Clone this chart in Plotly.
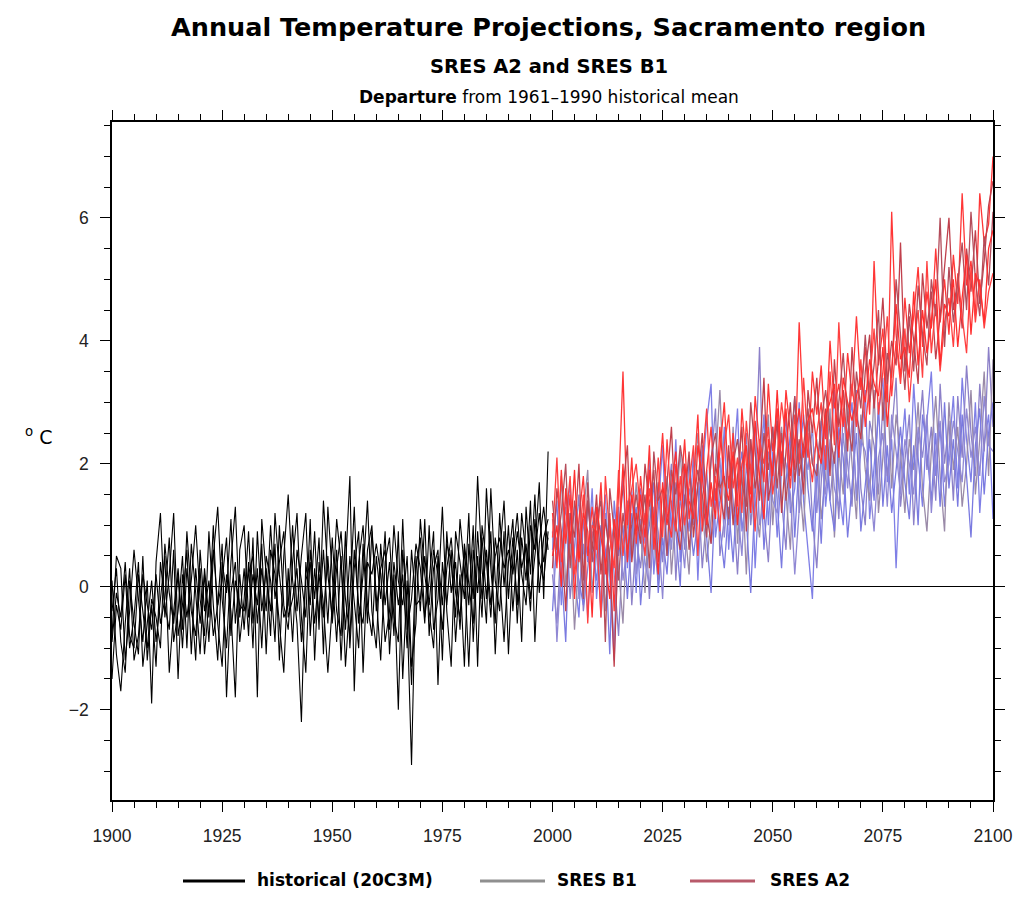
import plotly.graph_objects as go

# ---------------- data (degrees C departure) ----------------
hist_start = 1900
proj_start = 2000

hist_1 = [-0.8, 0.5, 0.3, -1.2, -0.4, 0.6, -0.2, -0.9, 0.1, -1.9,
          0.4, 1.2, -0.5, 0.2, 1.2, -0.8, -0.3, 0.6, -1.1, 0.3,
          -0.6, 0.2, -0.9, 0.5, 1.3, -0.2, -1.0, 0.4, 1.3, -0.5,
          0.3, -0.8, 0.8, -1.8, 1.1, 0.2, -0.4, 0.7, -1.2, 0.5,
          1.5, 0.1, -0.6, -2.2, 0.4, -0.3, 0.9, -0.7, 1.4, 0.2,
          -0.5, 0.6, -1.2, 0.3, 1.8, -1.7, 0.4, 1.0, -0.3, -0.8,
          0.5, -0.2, 0.9, -1.1, 0.2, -2.0, 0.6, -0.4, -2.9, 0.3,
          0.8, -0.5, 0.1, 0.9, -1.6, 0.4, -0.3, 0.6, -0.9, 0.2,
          -1.3, 0.7, -0.2, 1.8, 0.3, -0.6, 1.6, 0.1, -0.4, 0.9,
          -1.1, 0.5, 1.2, 0.2, -0.3, 1.0, 0.6, 1.7, -0.2, 2.2]
hist_2 = [-1.5, -0.3, -0.7, 0.2, -1.0, -0.5, 0.4, -1.3, -0.6, 0.1,
          -0.9, -0.2, 0.5, -1.4, -0.4, 0.3, -0.7, 0.9, -0.2, -1.2,
          0.6, -0.4, 0.1, -0.8, -0.3, 0.7, -1.8, -0.1, 0.4, -0.9,
          -0.2, 0.9, -0.6, 0.3, -1.0, 0.5, 0.1, -0.9, 1.0, -0.3,
          -0.7, 0.4, 1.2, -0.5, -1.4, 0.6, -0.2, 0.8, -1.1, 1.3,
          0.2, -0.9, 0.5, -1.3, -0.2, 1.3, -0.6, 0.2, 1.4, -0.4,
          -1.0, 0.7, -0.3, 0.4, -0.8, 0.9, -1.5, 0.1, -1.6, 0.5,
          -0.4, 1.1, -0.8, 0.3, 0.6, -1.2, 0.9, -0.1, 0.4, -0.7,
          0.6, -0.3, 1.0, -1.3, 1.0, 0.4, -0.5, 0.8, 0.2, -0.9,
          0.4, 1.1, -0.6, 0.8, 0.1, 1.4, -0.9, 0.7, 1.3, 0.6]
hist_3 = [0.1, -1.1, -1.7, -0.6, 0.3, -1.2, -0.8, 0.2, -0.3, -0.7,
          0.2, -0.6, -0.2, 0.8, -0.9, -0.4, 0.5, -1.0, 0.7, -0.1,
          -1.1, 0.3, -0.5, 1.0, -0.6, -1.3, 0.2, -0.4, -1.8, 0.6,
          1.0, -0.5, 0.2, -0.3, 0.7, -1.1, 0.6, 0.2, -0.6, -1.4,
          0.3, -0.9, 0.6, 0.1, -0.5, 1.1, -1.2, 0.4, -0.3, -1.4,
          -0.3, 1.1, 0.4, -0.7, 0.5, -0.2, -1.0, 0.7, -0.6, 0.9,
          -0.2, -1.2, 0.4, 0.8, -0.5, -0.9, 1.1, -0.7, -0.2, 0.7,
          0.3, -0.6, 1.0, -0.7, -0.2, 1.3, -0.4, -1.3, 0.9, 0.4,
          -0.2, 1.2, -0.9, 0.5, -0.5, 1.6, 0.3, -0.6, 1.2, 0.0,
          1.0, -0.4, 0.6, -0.9, 1.3, 0.2, 1.5, -0.1, 0.8, 1.1]
hist_4 = [-0.4, 0.3, -0.9, -1.4, 0.1, -0.6, -1.1, 0.5, -1.2, -0.3,
          -1.3, 0.4, -0.3, -0.7, 0.6, -1.5, 0.2, -0.5, 0.1, 1.0,
          -0.2, -0.8, 0.9, -0.3, -1.2, 0.4, -0.1, 1.1, -0.6, 0.2,
          -0.7, 0.4, -1.0, 0.9, -0.4, 0.3, -0.8, 1.2, 0.2, -0.5,
          -0.3, 1.0, -0.4, 0.5, 1.2, -0.8, 0.3, -0.5, 0.6, -0.6,
          0.8, -0.4, -0.8, 0.9, -1.0, 0.3, 0.9, -1.4, 0.4, 0.2,
          0.7, 0.2, -0.9, -0.4, 1.0, 0.1, -0.3, 0.5, -1.3, -0.6,
          1.1, 0.2, -0.4, -1.0, 0.5, -0.3, 0.7, 0.4, -0.5, 1.1,
          0.3, -1.3, 0.6, -0.1, 0.8, -0.2, 0.9, -1.1, 0.5, 1.4,
          -0.2, 0.8, -0.3, 1.2, 0.5, -0.4, 1.1, 0.4, 0.1, 0.9]
hist_5 = [-0.9, -0.1, -0.5, 0.4, -0.8, -1.0, 0.2, -0.4, -1.0, -0.2,
          -0.5, -1.0, 0.7, -0.1, -0.6, 0.2, -1.0, 0.3, -0.4, -0.8,
          0.3, -1.1, -0.2, 0.6, -0.3, 0.1, 0.8, -0.8, 0.1, -0.3,
          -0.4, 0.2, 0.5, -0.6, 0.3, -0.4, 1.0, -0.2, 0.4, 0.9,
          -0.5, -0.2, 0.3, -0.9, 0.1, 0.4, -0.6, 0.2, -0.5, 0.5,
          -0.6, 0.3, 0.9, -0.2, -0.8, 0.6, -0.3, -0.6, 0.6, 1.0,
          -0.4, 0.3, 0.6, -0.7, 0.4, -0.3, 0.2, -1.0, 0.6, -0.3,
          -0.2, 0.5, -0.3, 0.6, 0.2, -0.7, 0.3, 0.8, -0.1, -0.5,
          0.7, 0.1, -0.6, 0.9, -0.2, 0.6, -0.3, 0.5, 0.8, 0.3,
          0.6, 0.2, 0.9, 0.3, 0.7, -0.2, 0.5, 1.2, 0.4, 0.8]

b1_1 = [0.6, 1.4, -0.3, 0.9, 1.7, 0.2, -0.5, 1.1, 0.4, 1.6,
        -0.2, 0.8, 1.5, 0.1, -1.2, 0.9, 1.8, 0.3, 1.2, -0.1,
        1.6, 0.7, 2.1, 0.2, 1.3, 2.3, 0.5, 1.0, 2.4, 0.4,
        1.5, 0.9, 2.2, 0.1, 1.8, 2.7, 3.3, 0.8, 1.4, 2.6,
        0.6, 1.9, 2.9, 0.9, 1.5, 2.4, 0.3, 1.7, 2.8, 1.0,
        2.2, 0.8, 1.9, 2.8, 1.2, 1.6, 3.0, 1.4, 0.6, -0.2,
        1.8, 2.7, 1.3, 2.1, 3.2, 1.6, 1.0, 2.5, 3.0, 1.4,
        2.2, 3.2, 1.1, 1.9, 2.8, 3.4, 1.7, 2.4, 0.3, 2.0,
        2.9, 1.5, 3.3, 2.1, 1.3, 2.7, 3.5, 1.8, 2.6, 1.3,
        2.2, 3.1, 1.6, 3.4, 2.4, 1.7, 3.0, 1.2, 2.3, 2.8,
        1.1]
b1_2 = [0.2, -0.6, 0.8, 1.3, -0.2, 0.6, 1.5, -0.4, 0.3, 1.0,
        1.3, -0.5, 0.4, 1.1, 0.2, -0.8, 0.7, 1.4, -0.3, 0.8,
        0.3, 1.2, -0.2, 1.0, 1.7, 0.4, 1.3, 2.0, 0.1, 1.5,
        0.6, 2.1, 1.0, 1.7, 0.3, 1.2, 2.0, 2.9, 0.5, 1.1,
        2.2, 1.4, 0.2, 1.6, 2.5, 1.0, 1.8, 3.9, 1.2, 0.4,
        1.8, 2.9, 1.4, 0.6, 2.2, 3.1, 1.2, 1.9, 2.5, 1.1,
        0.3, 1.7, 2.8, 1.4, 2.2, 1.1, 2.9, 2.0, 1.3, 3.2,
        1.6, 1.0, 2.7, 2.3, 1.5, 3.0, 1.8, 2.5, 3.4, 1.3,
        2.1, 2.8, 1.0, 2.3, 3.2, 1.9, 2.6, 1.4, 3.3, 2.0,
        2.7, 1.4, 3.1, 2.1, 3.6, 2.5, 1.8, 3.3, 2.2, 3.9,
        2.6]
b1_3 = [1.1, 0.4, 1.8, 0.0, 0.9, -0.7, 0.5, 1.2, 1.9, -0.1,
        0.7, 1.6, -0.4, 0.6, 1.0, 0.3, -0.6, 1.1, 0.5, 1.7,
        0.9, -0.1, 1.4, 0.8, 0.1, 1.1, 1.8, 0.2, 1.2, 2.2,
        1.0, 0.2, 1.6, 2.5, 1.3, 0.4, 1.1, 2.0, 3.2, 1.5,
        1.0, 2.6, 0.7, 1.9, 0.2, 2.0, 1.4, 0.8, 1.9, 2.8,
        1.0, 2.1, 2.6, 1.5, 0.6, 2.4, 1.8, 0.9, 2.7, 2.0,
        2.4, 1.1, 1.8, 2.9, 0.8, 2.2, 1.5, 3.0, 2.0, 1.1,
        2.8, 1.9, 1.4, 3.2, 1.2, 2.1, 3.3, 1.6, 2.8, 2.2,
        1.2, 2.4, 1.9, 3.0, 1.6, 0.9, 2.2, 3.1, 1.8, 0.9,
        3.0, 1.9, 2.6, 1.3, 2.0, 3.2, 1.5, 2.4, 3.5, 1.8,
        3.7]
b1_4 = [-0.4, 0.8, 0.3, -0.9, 1.2, 0.5, 0.1, -0.3, 1.4, 0.6,
        0.1, 1.0, 0.6, -1.1, 1.4, 0.5, 1.0, -0.2, 0.9, 1.3,
        -0.3, 0.6, 1.0, 1.7, -0.1, 0.8, 0.2, 1.4, 0.9, 0.0,
        2.0, 1.3, 0.5, 1.1, 2.3, 0.8, -0.1, 1.6, 1.0, 0.3,
        1.3, 0.4, 1.7, 2.2, 1.1, -0.1, 1.5, 2.3, 0.6, 1.6,
        2.6, 1.4, 0.3, 1.7, 2.5, 0.8, 2.1, 2.8, 1.6, 0.9,
        2.0, 0.7, 2.3, 1.4, 0.9, 2.6, 2.1, 0.8, 1.7, 2.5,
        0.9, 1.6, 2.4, 1.4, 3.0, 1.3, 2.3, 1.2, 1.9, 2.6,
        1.7, 1.1, 2.3, 1.0, 2.8, 2.2, 1.4, 2.5, 1.3, 3.0,
        1.6, 2.4, 1.3, 2.8, 1.8, 0.8, 2.3, 2.9, 1.5, 2.5,
        3.0]
b1_5 = [0.9, -0.9, 0.4, 1.5, 0.7, 1.3, -0.2, 0.7, -0.5, 0.9,
        0.5, -0.3, 1.2, 0.4, -1.0, 1.3, 0.1, 0.7, 1.6, 0.2,
        1.1, 0.4, 0.0, 1.3, 0.9, -0.2, 1.5, 0.6, 1.7, 1.0,
        0.3, 1.6, 1.2, 0.6, 1.0, 1.9, 0.7, 1.3, 2.1, 0.8,
        1.8, 1.1, 1.3, 0.5, 2.0, 1.3, 2.6, 1.0, 1.4, 2.2,
        1.4, 1.2, 2.2, 2.0, 1.5, 0.2, 1.3, 2.3, 1.9, 2.6,
        1.2, 2.1, 1.5, 2.4, 1.6, 1.3, 2.5, 1.6, 2.7, 1.5,
        2.4, 2.2, 1.7, 0.9, 2.1, 2.5, 1.3, 2.8, 2.2, 1.5,
        2.4, 2.0, 1.5, 2.6, 2.1, 2.8, 1.2, 2.2, 2.7, 1.7,
        2.0, 2.7, 2.2, 1.7, 2.9, 2.1, 2.6, 1.8, 3.1, 2.3,
        2.2]

a2_1 = [1.2, 0.3, 1.9, 0.7, 1.5, -0.2, 1.1, 1.8, 0.5, 1.3,
        0.6, 1.7, 0.2, 1.2, -0.4, 1.4, 3.5, 1.0, 2.1, 0.7,
        1.8, 1.0, 2.3, 0.6, 1.6, 2.5, 1.2, 0.8, 2.0, 1.4,
        2.4, 1.1, 1.7, 2.8, 0.9, 1.9, 2.6, 1.4, 2.2, 3.0,
        1.6, 2.5, 1.3, 2.9, 2.0, 1.5, 3.1, 2.3, 1.7, 3.3,
        2.2, 2.9, 1.8, 3.2, 2.5, 1.9, 4.3, 2.7, 2.1, 3.5,
        2.8, 3.6, 2.4, 4.0, 2.9, 3.3, 2.6, 3.8, 3.1, 4.4,
        3.2, 3.9, 2.8, 5.3, 3.6, 4.2, 3.0, 6.1, 4.1, 3.4,
        4.7, 3.8, 4.4, 5.2, 3.9, 4.8, 4.2, 5.5, 4.3, 5.0,
        4.1, 5.4, 4.6, 6.4, 4.9, 5.3, 4.4, 6.4, 5.6, 5.9,
        7.0]
a2_2 = [0.3, 1.6, 0.9, -0.4, 1.2, 0.8, 2.0, 0.1, 1.4, 0.6,
        1.5, 0.2, 1.1, 0.5, -1.3, 0.9, 1.6, 2.3, 0.4, 1.2,
        0.7, 2.0, 1.3, 1.9, 0.4, 1.1, 1.7, 2.6, 1.0, 0.6,
        1.4, 2.2, 0.8, 1.6, 2.5, 1.2, 0.7, 2.0, 1.5, 1.1,
        2.3, 1.0, 1.8, 2.6, 0.9, 2.4, 1.6, 2.1, 3.4, 1.4,
        1.9, 2.7, 1.2, 2.2, 3.0, 1.7, 2.4, 1.5, 3.2, 2.5,
        3.4, 2.1, 2.9, 1.8, 3.7, 2.6, 3.2, 2.2, 3.9, 2.8,
        2.4, 3.5, 4.1, 2.9, 3.7, 4.7, 3.3, 4.0, 3.6, 5.6,
        3.5, 4.6, 4.0, 3.3, 5.1, 4.2, 4.8, 3.7, 4.4, 5.2,
        6.0, 4.5, 5.0, 4.2, 5.5, 4.8, 5.8, 4.6, 5.3, 6.2,
        6.6]
a2_3 = [0.8, 2.1, 0.4, 1.0, 1.8, 0.2, 0.7, 1.5, -0.6, 1.0,
        0.9, -0.5, 1.8, 0.8, 0.3, 1.9, 0.5, 1.3, 1.6, 2.0,
        1.2, 0.5, 1.6, 1.0, 2.1, 0.8, 2.4, 1.3, 0.9, 1.8,
        1.0, 1.7, 2.3, 0.5, 2.0, 2.9, 1.3, 1.8, 0.9, 2.3,
        2.8, 1.6, 2.1, 1.2, 2.7, 1.9, 0.9, 2.4, 2.0, 2.6,
        1.5, 2.1, 3.0, 2.4, 1.6, 2.8, 2.0, 3.4, 2.3, 1.7,
        2.5, 3.0, 1.9, 3.5, 2.3, 4.3, 2.9, 2.4, 3.3, 2.6,
        3.7, 2.6, 3.3, 4.2, 2.8, 3.5, 4.4, 3.1, 4.0, 3.3,
        4.2, 3.0, 3.9, 4.5, 3.4, 5.3, 3.8, 4.6, 3.5, 4.3,
        4.7, 3.9, 5.1, 4.4, 3.8, 5.2, 4.3, 5.0, 4.2, 4.8,
        5.1]
a2_4 = [1.4, 0.6, 1.2, 2.0, 0.3, 1.4, 0.9, -0.2, 1.7, 0.4,
        1.1, 1.4, -0.9, 1.6, 0.9, 0.1, 1.2, 0.6, 1.0, 1.5,
        0.9, 1.5, 0.3, 2.2, 1.4, 1.6, 0.5, 1.9, 1.5, 2.3,
        1.8, 0.6, 1.4, 1.9, 1.5, 0.8, 2.1, 2.5, 1.6, 1.8,
        1.1, 2.0, 2.4, 1.7, 1.3, 3.0, 2.2, 1.4, 2.5, 1.9,
        2.6, 1.6, 2.5, 1.4, 2.1, 3.1, 1.8, 2.3, 2.9, 2.0,
        1.8, 2.7, 3.2, 2.5, 2.0, 3.0, 3.8, 2.7, 2.2, 3.5,
        2.9, 4.1, 3.0, 3.6, 4.5, 2.7, 3.8, 3.4, 5.0, 4.1,
        3.2, 4.4, 3.5, 4.9, 4.1, 3.6, 5.0, 4.4, 6.0, 3.9,
        5.2, 4.3, 4.9, 5.6, 4.5, 6.1, 5.0, 4.4, 5.7, 4.9,
        6.1]
a2_5 = [0.5, 1.0, 0.0, 1.6, 0.7, 1.9, 0.4, 1.2, 0.9, -0.5,
        1.3, 0.8, 0.4, -0.2, 1.1, 0.6, 2.0, 0.4, 1.5, 0.9,
        1.5, 0.8, 1.9, 1.1, 0.2, 1.7, 1.0, 1.6, 2.2, 0.9,
        2.0, 1.4, 1.1, 2.3, 1.8, 1.0, 1.7, 1.1, 2.6, 1.7,
        1.4, 2.2, 1.0, 2.0, 2.3, 1.2, 2.7, 1.8, 1.1, 2.4,
        1.8, 3.2, 2.0, 2.9, 1.8, 2.4, 2.9, 2.1, 2.7, 2.9,
        2.3, 2.0, 2.8, 3.0, 3.3, 2.1, 3.4, 3.0, 2.7, 3.1,
        3.4, 3.0, 3.7, 3.3, 3.1, 3.9, 2.6, 3.5, 4.6, 3.7,
        3.9, 3.4, 4.8, 3.6, 4.5, 3.8, 4.3, 5.0, 3.6, 4.6,
        4.4, 5.0, 3.9, 4.7, 5.4, 4.1, 5.1, 4.9, 4.3, 5.5,
        5.8]

x_tick_vals = [1900, 1925, 1950, 1975, 2000, 2025, 2050, 2075, 2100]
y_tick_vals = [-2, 0, 2, 4, 6]

legend_names = ["historical (20C3M)", "SRES B1", "SRES A2"]
legend_colors = ["black", "#8f8f8f", "#b85a6a"]

# ---------------- styling ----------------
FONT = "DejaVu Sans, Liberation Sans, Arial, sans-serif"
TICK_FONT = "Liberation Sans, Arial, Helvetica, sans-serif"
hist_runs = [hist_1, hist_2, hist_3, hist_4, hist_5]
b1_runs = [b1_1, b1_2, b1_3, b1_4, b1_5]
a2_runs = [a2_1, a2_2, a2_3, a2_4, a2_5]
b1_colors = ["#7f7fe6", "#8c80c8", "#9a8aa8", "#7a7ae0", "#9088d4"]
a2_colors = ["#ff3636", "#c0404c", "#ff4040", "#b44c5a", "#ff2e2e"]

# The page body has an 8px margin on every side; keep the page free of scrolling
# and place the plot area at page x 112..993, y 122..800.
W, H = 1005, 888
L, T = 104, 114
PW, PH = 881, 678
R, B = W - L - PW, H - T - PH
OX, OY = 8, 8


def py(page_y):   # page pixel y -> paper y
    return (OY + T + PH - page_y) / PH


def px(page_x):   # page pixel x -> paper x
    return (page_x - (OX + L)) / PW


fig = go.Figure()

for run, col in zip(b1_runs, b1_colors):
    fig.add_trace(go.Scatter(x=[proj_start + i for i in range(len(run))], y=run,
                             mode="lines", line=dict(color=col, width=1.3),
                             name="SRES B1", showlegend=False, hoverinfo="skip"))
for run, col in zip(a2_runs, a2_colors):
    fig.add_trace(go.Scatter(x=[proj_start + i for i in range(len(run))], y=run,
                             mode="lines", line=dict(color=col, width=1.3),
                             name="SRES A2", showlegend=False, hoverinfo="skip"))
for run in hist_runs:
    fig.add_trace(go.Scatter(x=[hist_start + i for i in range(len(run))], y=run,
                             mode="lines", line=dict(color="black", width=1.1),
                             name="historical (20C3M)", showlegend=False, hoverinfo="skip"))

# legend drawn below the plot (line sample + bold label), like the original
legend_line_x = [(183, 245), (480, 545), (690, 755)]
legend_text_x = [255, 555, 768]
shapes = []
annotations = []
for name, col, (x0, x1), tx in zip(legend_names, legend_colors, legend_line_x, legend_text_x):
    shapes.append(dict(type="line", xref="paper", yref="paper", x0=px(x0), x1=px(x1),
                       y0=py(881), y1=py(881), line=dict(color=col, width=3)))
    annotations.append(dict(text="<b>%s</b>" % name, xref="paper", yref="paper",
                            x=px(tx), y=py(880), xanchor="left", yanchor="middle",
                            showarrow=False, font=dict(size=17, family=FONT, color="black")))

annotations += [
    dict(text="<b>Annual Temperature Projections, Sacramento region</b>",
         xref="paper", yref="paper", x=px(548), y=py(27),
         showarrow=False, font=dict(size=25.5, family=FONT), xanchor="center", yanchor="middle"),
    dict(text="<b>SRES A2 and SRES B1</b>", xref="paper", yref="paper", x=px(549),
         y=py(67), showarrow=False, font=dict(size=19.5, family=FONT),
         xanchor="center", yanchor="middle"),
    dict(text="<b>Departure</b> from 1961\u20131990 historical mean", xref="paper", yref="paper",
         x=px(549), y=py(97), showarrow=False, font=dict(size=17, family=FONT),
         xanchor="center", yanchor="middle"),
    dict(text="<sup>o</sup> C", xref="paper", yref="paper", x=px(38),
         y=py(436), showarrow=False, font=dict(size=19, family=FONT),
         xanchor="center", yanchor="middle"),
]

fig.update_layout(
    width=W, height=H,
    paper_bgcolor="white", plot_bgcolor="white",
    margin=dict(l=L, r=R, t=T, b=B, pad=0, autoexpand=False),
    font=dict(family=FONT, color="black"),
    showlegend=False,
    shapes=shapes,
    annotations=annotations,
)

fig.update_xaxes(
    range=[1900, 2100], tickmode="array", tickvals=x_tick_vals, automargin=False,
    ticklabeloverflow="allow",
    ticks="outside", ticklen=10, tickwidth=1.3, tickcolor="black",
    showline=True, linecolor="black", linewidth=1.6, mirror="allticks",
    showgrid=False, zeroline=False, ticklabelstandoff=9, layer="above traces",
    tickfont=dict(size=17.5, family=TICK_FONT, color="#222222"),
    minor=dict(dtick=5, tick0=1900, ticks="outside", ticklen=6, tickwidth=1, tickcolor="black", showgrid=False),
)
fig.update_yaxes(
    range=[-3.47, 7.56], tickmode="array", tickvals=y_tick_vals, automargin=False,
    ticks="outside", ticklen=10, tickwidth=1.3, tickcolor="black",
    showline=True, linecolor="black", linewidth=1.6, mirror="allticks",
    showgrid=False, zeroline=True, zerolinecolor="black", zerolinewidth=1.2,
    ticklabelstandoff=8, layer="above traces",
    tickfont=dict(size=17.5, family=TICK_FONT, color="#222222"),
    minor=dict(dtick=0.5, tick0=0, ticks="outside", ticklen=6, tickwidth=1, tickcolor="black", showgrid=False),
)

fig.write_html("out.html")
